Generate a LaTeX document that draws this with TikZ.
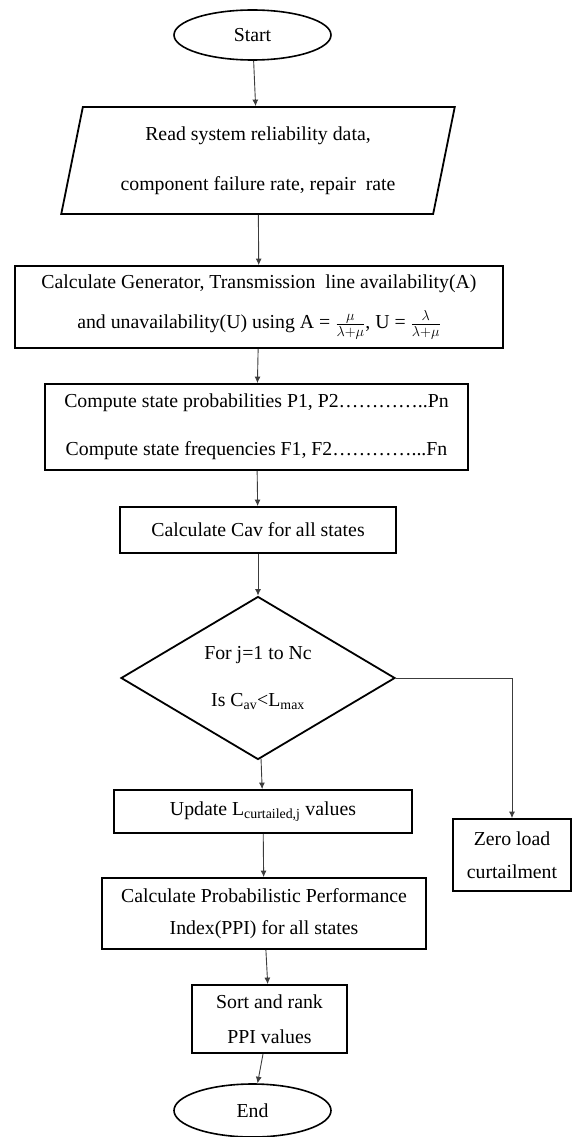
\documentclass[tikz,border=0pt]{standalone}
\usepackage{fontspec}
\setmainfont{Liberation Serif}
\usetikzlibrary{shapes.geometric,arrows.meta}

\tikzset{every picture/.style={line width=1pt}}
\tikzset{
  boxline/.style={draw={rgb, 255:red, 0; green, 0; blue, 0 }, line width=1.8pt, inner sep=0pt, font=\fontsize{19.8}{24}\selectfont, align=center},
  flowbox/.style={boxline, rectangle},
  termbox/.style={boxline, ellipse, line width=1.6pt},
  flowarrow/.style={draw={rgb, 255:red, 60; green, 60; blue, 60 }, line width=0.9pt, -{Latex[length=6.5pt,width=6pt]}}
}

\begin{document}
\begin{tikzpicture}[x=1pt,y=1pt,yscale=-1,xscale=1]
\useasboundingbox (0,0) rectangle (574,1137); %set diagram as large as the reference

%Shape: Ellipse
\node[termbox, minimum width=157, minimum height=50] (start) at (252.5,35) {Start};
%Shape: Parallelogram
\node[boxline, trapezium, trapezium left angle=76, trapezium right angle=104, trapezium stretches=true, minimum width=394, minimum height=107] (read) at (258,160.5) {Read system reliability data,\\[26pt] component failure rate, repair\ \ rate};
%Shape: Rectangle
\node[flowbox, minimum width=488, minimum height=82] (avail) at (259,307) {Calculate Generator, Transmission\ \ line availability(A)\\[16pt] and unavailability(U) using A = $\frac{\mu}{\lambda+\mu}$, U = $\frac{\lambda}{\lambda+\mu}$};
%Shape: Rectangle
\node[flowbox, minimum width=423, minimum height=86] (states) at (256.5,427) {Compute state probabilities P1, P2…………..Pn\\[24pt] Compute state frequencies F1, F2…………...Fn};
%Shape: Rectangle
\node[flowbox, minimum width=276, minimum height=46] (cav) at (258,530) {Calculate Cav for all states};
%Shape: Diamond
\node[boxline, diamond, aspect=1.68, minimum width=274, minimum height=163] (check) at (258,678) {For j=1 to Nc\\[23pt] Is C\textsubscript{av}<L\textsubscript{max}};
%Shape: Rectangle
\node[flowbox, minimum width=298, minimum height=43] (update) at (263,811.5) {Update L\textsubscript{curtailed,j} values};
%Shape: Rectangle
\node[flowbox, minimum width=118, minimum height=72] (zero) at (512,855) {Zero load\\[9pt] curtailment};
%Shape: Rectangle
\node[flowbox, minimum width=324, minimum height=71] (ppi) at (264,913.5) {Calculate Probabilistic Performance\\[8pt] Index(PPI) for all states};
%Shape: Rectangle
\node[flowbox, minimum width=155, minimum height=68] (rank) at (269.5,1019) {Sort and rank\\[11pt] PPI values};
%Shape: Ellipse
\node[termbox, minimum width=157, minimum height=53] (stop) at (252.5,1110.5) {End};

%Straight Lines
\draw[flowarrow] (start) -- (read);
\draw[flowarrow] (read) -- (avail);
\draw[flowarrow] (avail) -- (states);
\draw[flowarrow] (states) -- (cav);
\draw[flowarrow] (cav) -- (check);
\draw[flowarrow] (check) -- (update);
\draw[flowarrow] (check.east) -| (zero.north);
\draw[flowarrow] (update) -- (ppi);
\draw[flowarrow] (ppi) -- (rank);
\draw[flowarrow] (rank) -- (stop);

\end{tikzpicture}
\end{document}
